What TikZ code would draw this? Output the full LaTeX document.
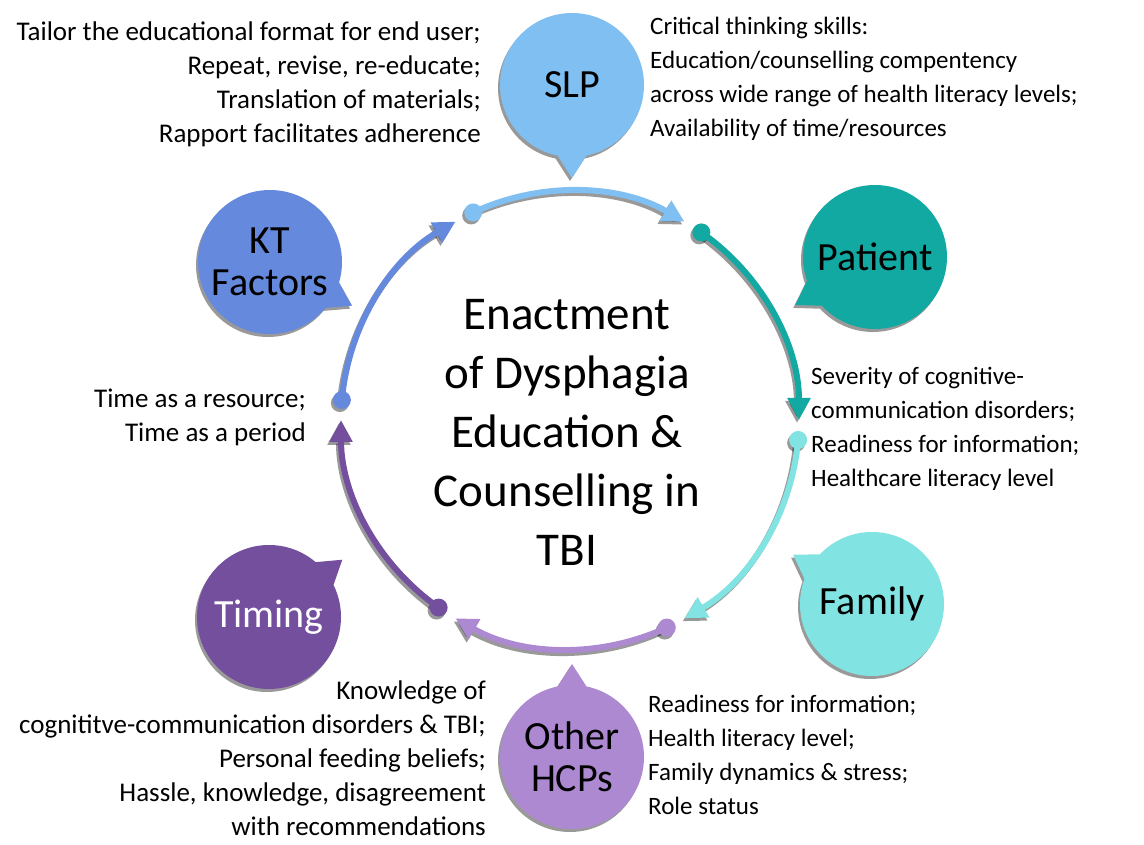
\documentclass[tikz,border=0pt]{standalone}
\usepackage{fontspec}
\setmainfont{Carlito}
\usetikzlibrary{arrows.meta,calc}

\definecolor{slpblue}{HTML}{80BFF2}
\definecolor{patientteal}{HTML}{12A9A2}
\definecolor{familycyan}{HTML}{82E3E3}
\definecolor{hcplilac}{HTML}{AD89D2}
\definecolor{timingpurple}{HTML}{744F9E}
\definecolor{ktblue}{HTML}{6589DC}

\begin{document}
\begin{tikzpicture}[x=1pt, y=1pt,
  bubble/.style={inner sep=0pt, align=center, font=\fontsize{40}{42}\selectfont},
  notes/.style={inner sep=0pt, font=\fontsize{25}{34}\selectfont},
  leftnotes/.style={notes, align=right, anchor=east, font=\fontsize{27}{34}\selectfont},
  topic/.style={inner sep=0pt, align=center, font=\fontsize{47}{59}\selectfont},
  cycleline/.style={line width=6pt},
  ]
  \useasboundingbox (0,0) rectangle (1144,844);

  \newcommand\R{229};
  % talk bubble: name, position, colour, tail angle, text
  \newcommand\bubble[5]{%
    \coordinate (#1-c) at (#2);
    \fill[black, opacity=.4] ($(#1-c)+(-2,-3)$) circle (72)
      ($(#1-c)+(#4:93)+(-2,-3)$) -- ($(#1-c)+(#4+15:68)+(-2,-3)$)
      -- ($(#1-c)+(#4-15:68)+(-2,-3)$) -- cycle;
    \fill[#3] (#1-c) circle (72)
      ($(#1-c)+(#4:93)$) -- ($(#1-c)+(#4+15:68)$) -- ($(#1-c)+(#4-15:68)$) -- cycle;
    \node[bubble] (#1) at (#1-c) {#5};}

  \coordinate (ctr) at (570,424);

  % the cycle of arrows
  \foreach \a/\c in {115/slpblue, 55/patientteal, -5/familycyan,
                     -65/hcplilac, -125/timingpurple, 175/ktblue} {
    \draw[cycleline, black, opacity=.4, -{Triangle[length=22pt, width=22pt]}]
      ($(ctr)+(\a:\R)+(-2,-3)$) arc[start angle=\a, end angle=\a-55, radius=\R];
    \fill[black, opacity=.4] ($(ctr)+(\a:\R)+(-2,-3)$) circle (9);
    \draw[cycleline, \c, -{Triangle[length=22pt, width=22pt]}]
      ($(ctr)+(\a:\R)$) arc[start angle=\a, end angle=\a-55, radius=\R];
    \fill[\c] ($(ctr)+(\a:\R)$) circle (9);
  }

  \bubble{slp}{572,759}{slpblue}{-90}{SLP}
  \bubble{kt}{270,582}{ktblue}{-28}{KT\\Factors}
  \bubble{patient}{875,587}{patientteal}{211}{Patient}
  \bubble{family}{872,240}{familycyan}{148}{Family}
  \bubble{hcps}{572,87}{hcplilac}{90}{Other\\HCPs}
  \bubble{timing}{269,227}{timingpurple}{38}{\color{white}Timing}

  \node[topic] (title) at (567,412)
    {Enactment\\of Dysphagia\\Education \&\\Counselling in\\TBI};

  \node[leftnotes] (slpleft) at (481,760)
    {Tailor the educational format for end user;\\Repeat, revise, re-educate;\\
     Translation of materials;\\Rapport facilitates adherence};
  \node[notes, align=left, anchor=west] (slpright) at (650,765)
    {Critical thinking skills:\\Education/counselling compentency\\
     across wide range of health literacy levels;\\Availability of time/resources};
  \node[notes, align=left, anchor=west] (patientnotes) at (811,415)
    {Severity of cognitive-\\communication disorders;\\
     Readiness for information;\\Healthcare literacy level};
  \node[notes, align=left, anchor=west] (familynotes) at (648,89)
    {Readiness for information;\\Health literacy level;\\
     Family dynamics \& stress;\\Role status};
  \node[leftnotes] (hcpnotes) at (486,86)
    {Knowledge of\\cognititve-communication disorders \& TBI;\\
     Personal feeding beliefs;\\Hassle, knowledge, disagreement\\with recommendations};
  \node[leftnotes] (timingnotes) at (306,427)
    {Time as a resource;\\Time as a period};
\end{tikzpicture}
\end{document}
